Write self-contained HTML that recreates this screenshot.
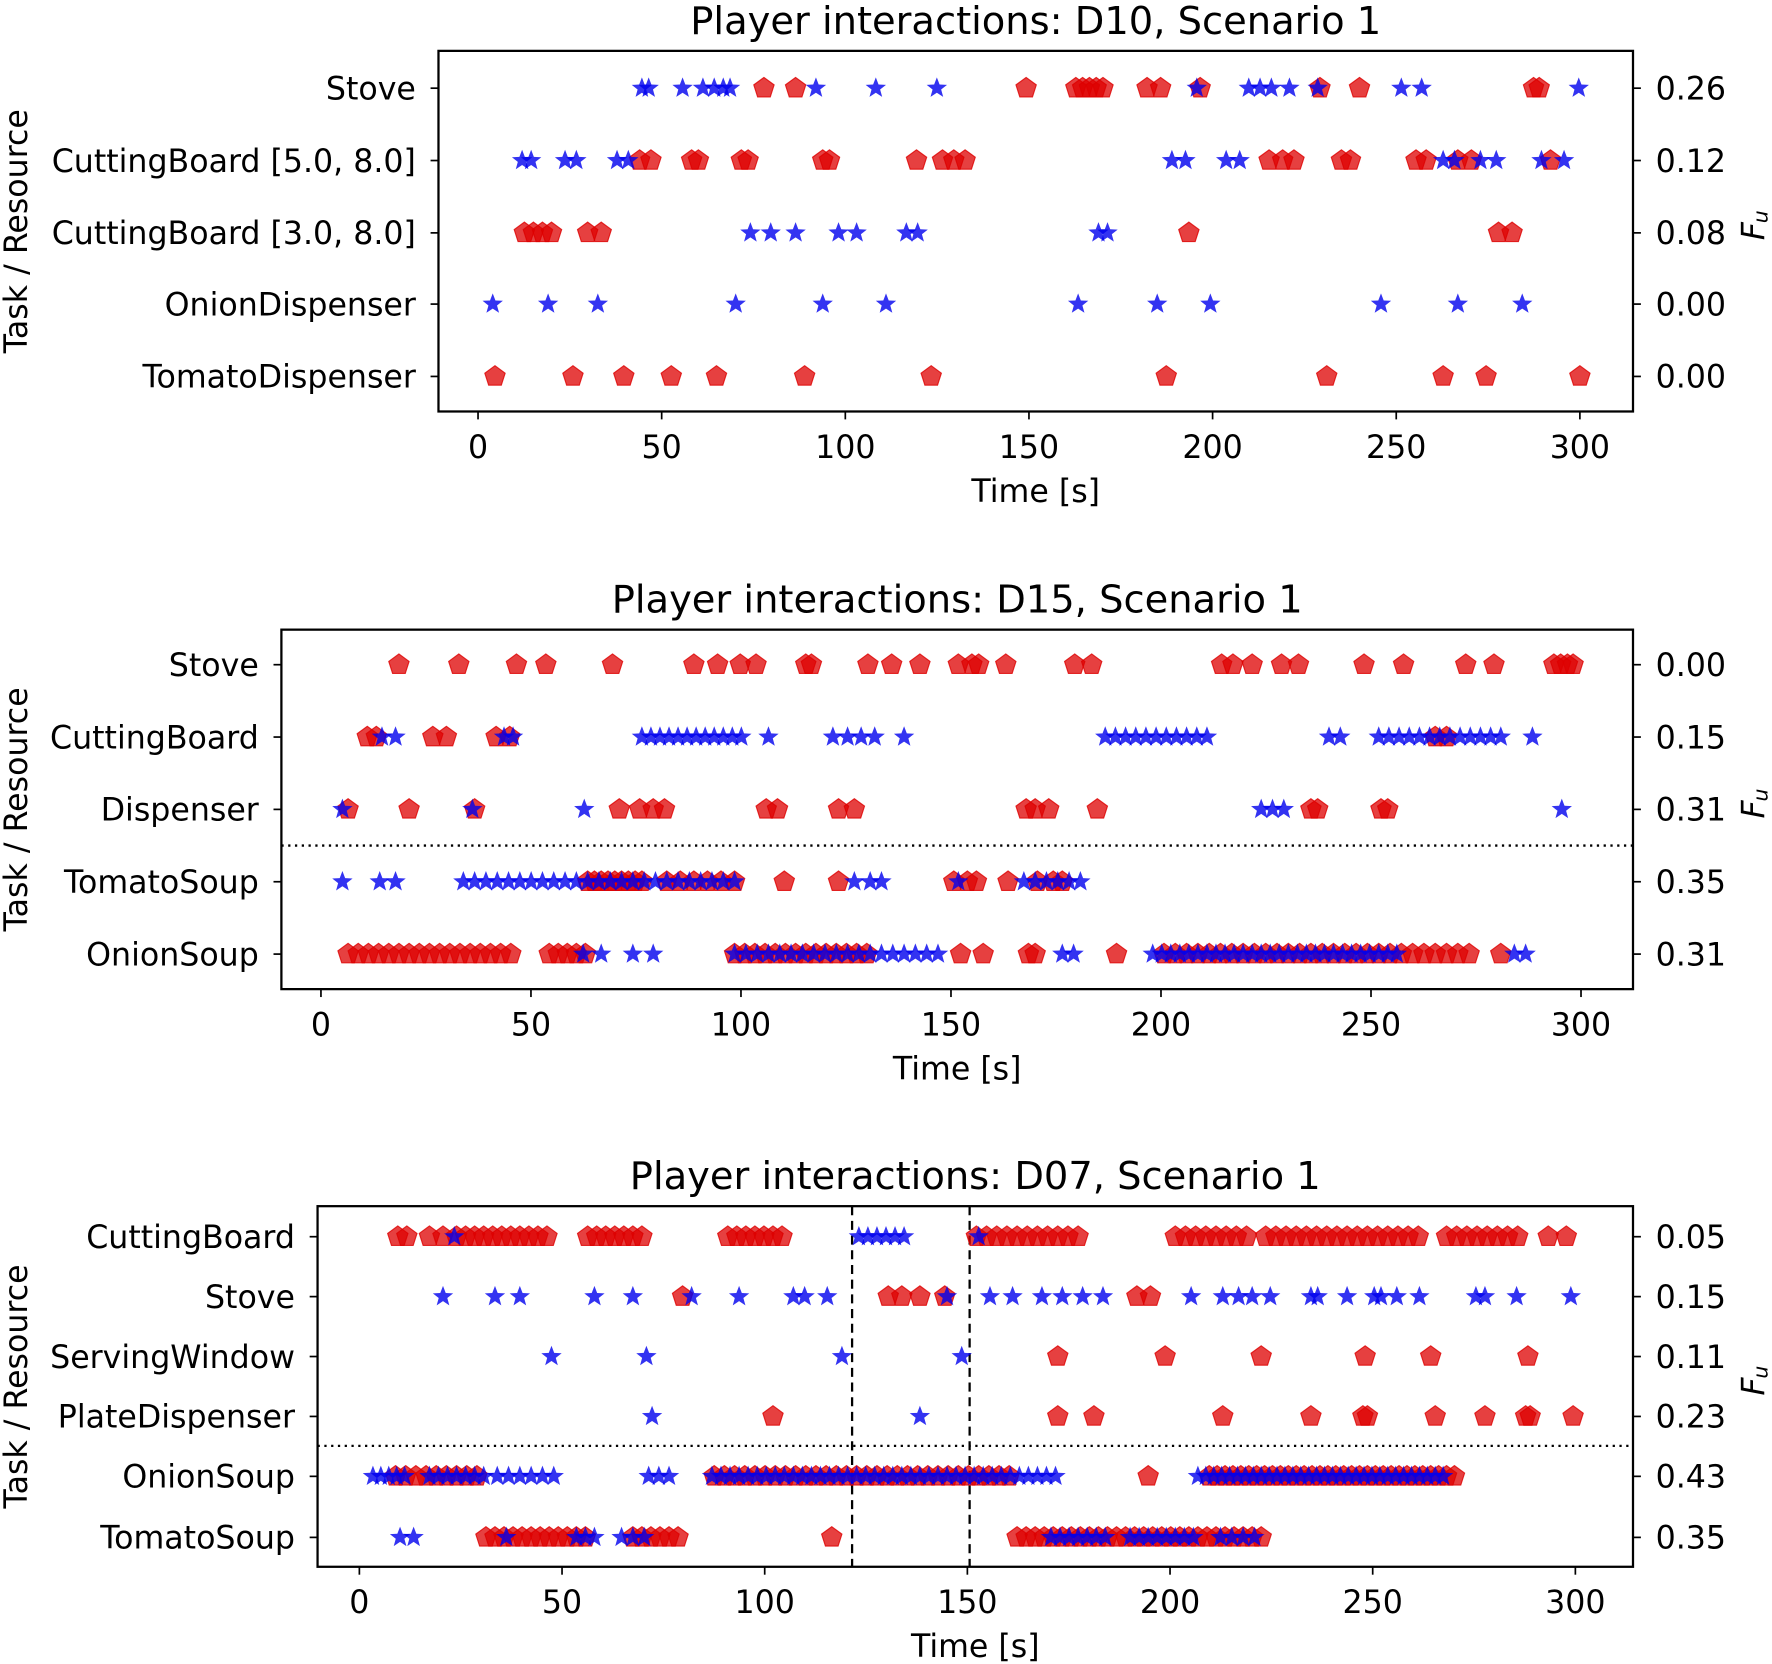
<!DOCTYPE html>
<html><head><meta charset="utf-8"><style>body{margin:0;background:#fff}svg{display:block}text{font-family:"DejaVu Sans","Liberation Sans",sans-serif;fill:#000}</style></head>
<body>
<svg id="s" width="1772" height="1664" viewBox="0 0 1568 1472" preserveAspectRatio="none" xmlns="http://www.w3.org/2000/svg">
<g id="g"></g>
</svg>
<script>
const NS="http://www.w3.org/2000/svg";const G=document.getElementById('g');
function el(t,a,txt){const e=document.createElementNS(NS,t);for(const k in a)e.setAttribute(k,a[k]);if(txt!==undefined)e.textContent=txt;G.appendChild(e);return e;}
function R(a,b,st){const r=[];for(let x=a;x<=b;x+=st)r.push(x);return r;}
function pent(x,y){const r=9.5;let p=[];for(let i=0;i<5;i++){const a=-Math.PI/2+i*2*Math.PI/5;p.push((x+r*Math.cos(a)).toFixed(1)+','+(y+r*Math.sin(a)).toFixed(1));}el('polygon',{points:p.join(' '),fill:'#dd0000','fill-opacity':0.75,stroke:'#dd0000','stroke-opacity':0.8});}
function star(x,y){const R1=9.5,r2=4;let p=[];for(let i=0;i<10;i++){const a=-Math.PI/2+i*Math.PI/5,rr=i%2?r2:R1;p.push((x+rr*Math.cos(a)).toFixed(1)+','+(y+rr*Math.sin(a)).toFixed(1));}el('polygon',{points:p.join(' '),fill:'#0000ee','fill-opacity':0.8});}
function plot(P){
 const {x0,x1,y0,y1,t0,t300,title,rows,fu,dotted,dashed}=P;
 el('text',{x:(x0+x1)/2,y:y0-15,'font-size':34,'text-anchor':'middle'},title);
 if(dotted)el('line',{x1:x0,x2:x1,y1:dotted,y2:dotted,stroke:'#000','stroke-width':2,'stroke-dasharray':'2,4'});
 (dashed||[]).forEach(x=>el('line',{x1:x,x2:x,y1:y0,y2:y1,stroke:'#000','stroke-width':2,'stroke-dasharray':'8,5'}));
 rows.forEach((r,i)=>{
  (r.r||[]).forEach(x=>pent(x,r.y));(r.b||[]).forEach(x=>star(x,r.y));
  el('line',{x1:x0-7,x2:x0,y1:r.y,y2:r.y,stroke:'#000','stroke-width':1.5});
  el('line',{x1:x1,x2:x1+7,y1:r.y,y2:r.y,stroke:'#000','stroke-width':1.5});
  el('text',{x:x0-20,y:r.y+10,'font-size':28,'text-anchor':'end'},r.n);
  el('text',{x:x1+20,y:r.y+10,'font-size':28},fu[i]);
 });
 el('rect',{x:x0,y:y0,width:x1-x0,height:y1-y0,fill:'none',stroke:'#000','stroke-width':2});
 for(let v=0;v<=300;v+=50){const x=t0+(t300-t0)*v/300;el('line',{x1:x,x2:x,y1:y1,y2:y1+7,stroke:'#000','stroke-width':1.5});el('text',{x:x,y:y1+41,'font-size':28,'text-anchor':'middle'},v);}
 el('text',{x:(x0+x1)/2,y:y1+80,'font-size':28,'text-anchor':'middle'},'Time [s]');
 const my=(y0+y1)/2;
 el('text',{x:0,y:0,'font-size':28,'text-anchor':'middle',transform:`translate(24,${my}) rotate(-90)`},'Task / Resource');
 el('text',{x:0,y:0,'font-size':28,'font-style':'italic','text-anchor':'middle',transform:`translate(1561,${my}) rotate(-90)`},'F');
 el('text',{x:0,y:0,'font-size':18,'font-style':'italic',transform:`translate(1564,${my-7}) rotate(-90)`},'u');
}
plot({x0:388,x1:1445,y0:45,y1:364,t0:423,t300:1398,title:'Player interactions: D10, Scenario 1',fu:['0.26','0.12','0.08','0.00','0.00'],rows:[
 {y:78,n:'Stove',r:[676,704,908,952,958,964,970,976,1015,1027,1062,1168,1203,1357,1362],b:[568,574,604,622,632,640,646,722,775,829,1059,1105,1115,1125,1141,1166,1240,1258,1397]},
 {y:142,n:'CuttingBoard [5.0, 8.0]',r:[566,576,612,618,656,662,728,734,811,834,844,854,1123,1135,1145,1187,1195,1253,1262,1290,1302,1372],b:[462,470,500,510,546,556,1037,1049,1085,1097,1277,1287,1310,1324,1364,1384]},
 {y:206,n:'CuttingBoard [3.0, 8.0]',r:[464,472,480,488,520,532,1052,1326,1338],b:[664,682,704,742,758,802,812,972,980]},
 {y:269,n:'OnionDispenser',b:[436,485,529,651,728,784,954,1024,1071,1222,1290,1347]},
 {y:333,n:'TomatoDispenser',r:[438,507,552,594,634,712,824,1032,1174,1277,1315,1398]}]});
plot({x0:249,x1:1445,y0:557,y1:875,t0:284,t300:1399,title:'Player interactions: D15, Scenario 1',fu:['0.00','0.15','0.31','0.35','0.31'],dotted:748,rows:[
 {y:588,n:'Stove',r:[353,406,457,483,542,614,635,655,669,713,718,768,789,814,848,860,866,890,951,966,1081,1091,1108,1134,1149,1207,1242,1297,1322,1375,1381,1387,1392]},
 {y:652,n:'CuttingBoard',r:[325,333,383,395,439,451,1270,1280],b:[338,350,446,454].concat(R(568,656,8),[680,737,750,762,774,800],R(978,1072,9),[1176,1186],R(1220,1330,9),[1356])},
 {y:716,n:'Dispenser',r:[308,362,420,548,566,578,588,678,688,742,756,908,916,928,971,1160,1166,1222,1228],b:[303,418,517,1116,1126,1136,1382]},
 {y:780,n:'TomatoSoup',r:R(520,570,6).concat(R(590,650,12),[694,742,844,856,864,892,918,932,940]),b:[303,336,350].concat(R(410,650,10),[756,770,780,848],R(906,958,10))},
 {y:844,n:'OnionSoup',r:R(308,460,9).concat(R(486,520,8),R(650,770,9),[850,870,910,916,988],R(1030,1300,10),[1328]),b:[516,532,560,578].concat(R(650,830,10),[940,950],R(1020,1240,8),[1340,1350])}]});
plot({x0:281,x1:1445,y0:1067,y1:1386,t0:318,t300:1394,title:'Player interactions: D07, Scenario 1',fu:['0.05','0.15','0.11','0.23','0.43','0.35'],dotted:1279,dashed:[754,858],rows:[
 {y:1094,n:'CuttingBoard',r:[352,360,380,392].concat(R(404,490,8),R(520,572,8),R(644,696,8),R(864,960,9),R(1040,1110,9),R(1120,1260,9),R(1280,1350,9),[1370,1386]),b:[402].concat(R(760,806,8),[866])},
 {y:1147,n:'Stove',r:[604,786,798,814,836,1006,1018],b:[392,438,460,526,560,612,654,702,712,732,838,876,896,922,940,958,976,1054,1082,1096,1108,1124,1160,1166,1192,1216,1222,1236,1256,1306,1314,1342,1390]},
 {y:1200,n:'ServingWindow',r:[936,1031,1116,1208,1266,1352],b:[488,572,745,851]},
 {y:1253,n:'PlateDispenser',r:[684,936,968,1082,1160,1206,1210,1270,1314,1350,1354,1392],b:[577,814]},
 {y:1306,n:'OnionSoup',r:R(350,430,9).concat(R(632,900,9),[1016],R(1070,1290,7)),b:R(330,360,7).concat(R(380,430,8),R(440,490,10),R(574,600,9),R(630,940,8),R(1060,1280,7))},
 {y:1360,n:'TomatoSoup',r:R(430,520,8).concat(R(560,600,8),[736],R(900,1120,8)),b:[354,366,448,510,518,526,550,560,570].concat(R(930,980,8),R(1000,1060,8),R(1080,1110,10))}]});
</script>
</body></html>
